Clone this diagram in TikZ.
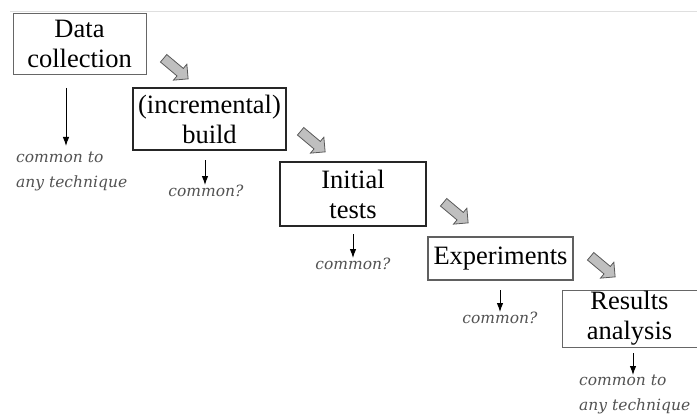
\documentclass[tikz,border=0pt]{standalone}
\usepackage{fontspec}
\setmainfont{Liberation Serif}
\newfontfamily\notefont{DejaVu Serif}
\usetikzlibrary{shapes.arrows,arrows.meta}
\begin{document}
\begin{tikzpicture}[x=1pt,y=-1pt,
  stage/.style={draw, align=center, inner sep=0pt,
    font=\fontsize{26.5}{30}\selectfont},
  thinbox/.style={stage, draw=gray!80!black, line width=0.9pt},
  boldbox/.style={stage, draw=black!85, line width=2pt},
  greybox/.style={stage, draw=gray!75!black, line width=2pt},
  note/.style={align=left, inner sep=0pt, text=black!68,
    font=\notefont\itshape\fontsize{15.5}{25}\selectfont},
  flow/.style={single arrow, draw=gray!70!black, fill=gray!50, line width=0.8pt,
    minimum height=32pt, inner xsep=0pt, inner ysep=4.5pt,
    single arrow head extend=5.5pt, single arrow head indent=0pt, rotate=-40},
  down/.style={-{Latex[length=9pt,width=6.5pt]}, line width=0.9pt}]
\useasboundingbox (0,0) rectangle (697,420);

% faint rule along the top
\draw[gray!25, line width=1pt] (10,12) -- (697,12);

% stages
\node[thinbox, minimum width=133pt, minimum height=61pt] (data) at (79.5,43.5) {Data\\collection};
\node[boldbox, minimum width=153pt, minimum height=62pt] (build) at (209.5,119) {(incremental)\\build};
\node[boldbox, minimum width=146pt, minimum height=64pt] (tests) at (353,194) {Initial\\tests};
\node[greybox, minimum width=145pt, minimum height=43pt] (exp) at (500.5,258.5) {Experiments};
\node[thinbox, minimum width=135pt, minimum height=57pt] (res) at (629.5,318.5) {Results\\analysis};

% block arrows between stages
\node[flow] (f1) at (174,67) {};
\node[flow] (f2) at (311,140) {};
\node[flow] (f3) at (454,211) {};
\node[flow] (f4) at (601,265) {};

% notes below the stages
\node[note, anchor=north west] (n1) at (16,152) {common to\\any technique};
\node[note, anchor=north] (n2) at (206,185) {common?};
\node[note, anchor=north] (n3) at (353,258) {common?};
\node[note, anchor=north] (n4) at (500,312) {common?};
\node[note, anchor=north west] (n5) at (579,375) {common to\\any technique};

% small arrows from each stage to its note
\coordinate (d1) at (66,88);
\coordinate (d2) at (205,160);
\coordinate (d3) at (353,234);
\coordinate (d4) at (500,290);
\coordinate (d5) at (633,353);
\draw[down] (d1) -- (d1 |- 0,146);
\draw[down] (d2) -- (d2 |- n2.north);
\draw[down] (d3) -- (d3 |- n3.north);
\draw[down] (d4) -- (d4 |- n4.north);
\draw[down] (d5) -- (d5 |- n5.north);
\end{tikzpicture}
\end{document}
